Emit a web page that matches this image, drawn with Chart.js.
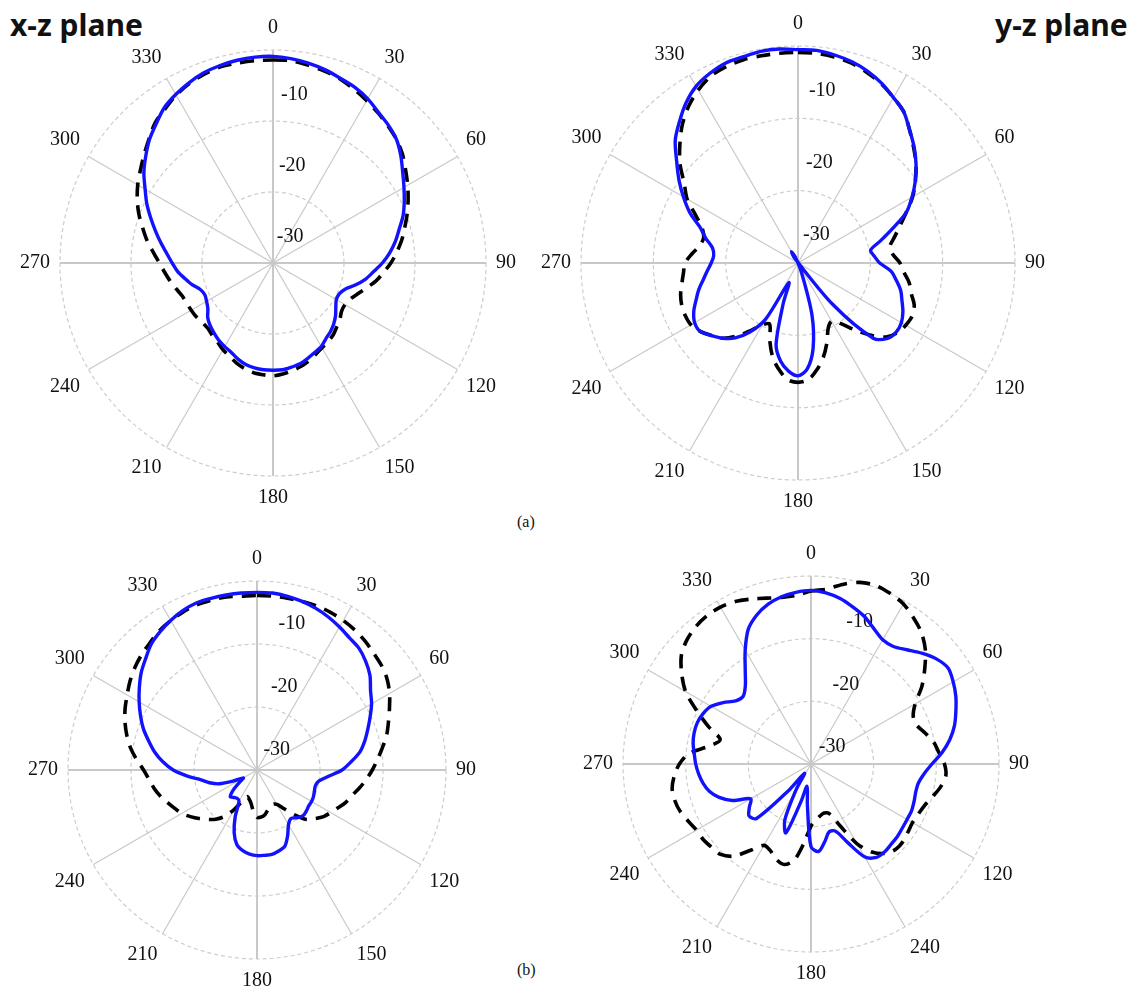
<!DOCTYPE html>
<html>
<head>
<meta charset="utf-8">
<script src="https://cdn.jsdelivr.net/npm/chart.js@4.4.1/dist/chart.umd.min.js"></script>
<style>
  html, body { margin: 0; padding: 0; background: #ffffff; }
  body { width: 1129px; height: 987px; overflow: hidden; position: relative; }
  canvas { position: absolute; }
  .plane { position: absolute; font-family: "Noto Sans", "Open Sans", sans-serif; font-weight: bold; font-size: 30px; line-height: 30px; color: #111; white-space: nowrap; }
  .cap { position: absolute; font-family: "Liberation Serif", "Times New Roman", serif; font-size: 16px; line-height: 16px; color: #111; }
</style>
</head>
<body>
<div class="plane" style="left:10px; top:10px;">x-z plane</div>
<div class="plane" style="left:995px; top:10px;">y-z plane</div>
<div class="cap" style="left:517px; top:514px;">(a)</div>
<div class="cap" style="left:517px; top:962px;">(b)</div>

<canvas id="pa1" width="506" height="506" style="left:15px; top:10px;"></canvas>
<canvas id="pa2" width="514" height="514" style="left:536px; top:6px;"></canvas>
<canvas id="pb1" width="458" height="458" style="left:23px; top:541px;"></canvas>
<canvas id="pb2" width="456" height="456" style="left:578px; top:536px;"></canvas>

<script>
// Angle categories (degrees)
const angleDeg = [
  0, 5, 10, 15, 20, 25, 30, 35, 40, 45, 50, 55,
  60, 65, 70, 75, 80, 85, 90, 95, 100, 105, 110, 115,
  120, 125, 130, 135, 140, 145, 150, 155, 160, 165, 170, 175,
  180, 185, 190, 195, 200, 205, 210, 215, 220, 225, 230, 235,
  240, 245, 250, 255, 260, 265, 270, 275, 280, 285, 290, 295,
  300, 305, 310, 315, 320, 325, 330, 335, 340, 345, 350, 355
];

// Angle tick labels (every 30 degrees)
const angleTicksStd = ['0', '30', '60', '90', '120', '150', '180', '210', '240', '270', '300', '330'];
const angleTicksB2  = ['0', '30', '60', '90', '120', '240', '180', '210', '240', '270', '300', '330'];

// Radial tick labels (dB)
const ringTicks = [-10, -20, -30];

// (a) x-z plane: blue solid and black dashed (dB)
const aXzSolid = [
  -0.9, -1.1, -1.4, -1.8, -2.3, -2.7, -3.3, -4.1, -4.7, -5.4, -6.5, -7.7,
  -8.7, -9.6, -10.5, -11.6, -12.5, -13.5, -14.6, -15.8, -16.8, -18.0, -19.2, -19.7,
  -19.7, -19.2, -18.5, -17.9, -17.4, -17.0, -16.4, -16.1, -15.7, -15.3, -15.1, -14.9,
  -14.9, -14.9, -15.0, -15.2, -15.6, -16.1, -16.4, -16.7, -17.1, -17.5, -18.0, -18.8,
  -19.2, -19.4, -19.1, -18.2, -17.4, -16.5, -15.8, -15.0, -14.0, -12.9, -11.7, -10.4,
  -9.2, -7.8, -6.6, -5.4, -4.4, -3.3, -2.6, -2.0, -1.5, -1.2, -1.0, -0.9
];
const aXzDashed = [
  -1.4, -1.4, -1.7, -2.0, -2.4, -3.0, -3.6, -4.2, -4.8, -5.4, -6.2, -7.2,
  -8.1, -9.0, -9.9, -10.8, -11.6, -12.5, -13.4, -14.4, -15.3, -16.4, -17.3, -18.0,
  -18.3, -18.2, -17.7, -17.3, -16.8, -16.5, -16.2, -15.8, -15.3, -14.9, -14.6, -14.3,
  -14.1, -14.2, -14.3, -14.6, -15.0, -15.5, -15.9, -16.4, -16.7, -17.0, -17.0, -16.8,
  -16.7, -16.6, -16.4, -15.9, -15.3, -14.7, -14.0, -13.1, -12.0, -11.0, -9.9, -8.9,
  -8.0, -7.2, -6.3, -5.3, -4.2, -3.5, -2.7, -2.1, -1.7, -1.4, -1.4, -1.4
];

// (a) y-z plane
const aYzSolid = [
  -0.5, -0.5, -0.8, -1.2, -1.8, -2.6, -3.6, -4.5, -6.0, -7.3, -8.7, -10.2,
  -11.8, -13.5, -16.1, -18.2, -19.8, -19.4, -18.7, -17.1, -16.2, -15.3, -14.7, -14.0,
  -13.5, -13.4, -13.8, -15.3, -22.5, -30.9, -31.8, -30.9, -28.5, -22.5, -18.0, -15.3,
  -14.4, -15.0, -16.2, -18.3, -24.0, -27.0, -21.0, -18.3, -16.5, -15.3, -14.4, -13.5,
  -13.5, -14.1, -15.0, -15.8, -16.7, -17.4, -18.0, -18.3, -18.0, -16.8, -15.6, -13.5,
  -11.7, -9.9, -8.1, -6.0, -4.5, -3.0, -1.8, -1.1, -0.6, -0.5, -0.3, -0.3
];
const aYzDashed = [
  -0.9, -0.9, -1.1, -1.4, -2.0, -2.7, -3.6, -4.5, -6.0, -7.4, -8.7, -10.2,
  -11.7, -13.5, -15.0, -16.2, -17.1, -16.8, -15.9, -15.3, -14.4, -13.8, -12.9, -12.6,
  -12.8, -13.2, -14.1, -15.9, -18.0, -19.8, -20.7, -20.1, -18.3, -16.5, -15.0, -13.8,
  -13.5, -13.8, -15.0, -16.5, -18.6, -20.7, -20.1, -18.6, -16.8, -15.3, -14.4, -13.5,
  -12.9, -12.8, -12.9, -13.2, -13.7, -14.1, -14.4, -15.3, -16.2, -16.5, -15.9, -14.4,
  -12.3, -10.8, -8.7, -6.9, -5.1, -3.6, -2.4, -1.5, -1.1, -0.9, -0.9, -0.9
];

// (b) x-z plane
const bXzSolid = [
  -1.8, -1.8, -2.0, -2.3, -2.7, -3.2, -3.8, -4.4, -4.8, -5.6, -6.6, -8.0,
  -9.0, -10.2, -11.3, -12.3, -13.4, -15.0, -16.5, -18.6, -20.0, -20.4, -20.3, -20.1,
  -20.0, -20.0, -19.8, -19.7, -20.1, -20.6, -20.0, -18.5, -17.1, -16.7, -16.4, -16.4,
  -16.4, -16.6, -17.0, -17.7, -19.4, -21.8, -24.3, -24.5, -24.3, -24.0, -25.1, -26.6,
  -27.5, -25.8, -23.6, -22.2, -21.0, -18.9, -16.7, -15.0, -13.5, -12.2, -10.8, -9.6,
  -8.4, -7.2, -6.0, -5.0, -3.9, -3.2, -2.6, -2.1, -1.8, -1.8, -1.8, -1.8
];
const bXzDashed = [
  -2.3, -2.3, -2.3, -2.3, -2.3, -2.4, -2.6, -2.9, -3.3, -3.8, -4.2, -4.8,
  -5.7, -6.8, -7.8, -8.7, -9.8, -10.8, -11.7, -12.6, -13.5, -14.4, -15.0, -15.8,
  -16.5, -17.1, -18.0, -18.9, -20.7, -22.5, -23.7, -24.0, -23.7, -23.4, -22.8, -22.5,
  -22.5, -23.4, -24.6, -25.2, -25.5, -24.6, -22.8, -21.0, -19.8, -18.9, -18.0, -17.1,
  -16.2, -15.6, -14.9, -14.1, -13.4, -12.8, -12.0, -10.8, -9.6, -8.6, -7.7, -6.9,
  -6.2, -5.4, -4.7, -4.1, -3.6, -3.0, -2.6, -2.3, -2.1, -2.1, -2.1, -2.3
];

// (b) y-z plane
const bYzSolid = [
  -2.3, -2.6, -3.2, -4.1, -5.0, -6.2, -7.1, -7.1, -6.2, -5.0, -3.9, -3.3,
  -3.8, -4.5, -5.4, -6.3, -7.5, -9.0, -10.7, -11.9, -12.6, -12.7, -12.5, -12.3,
  -12.3, -12.2, -12.0, -11.9, -11.7, -11.8, -12.9, -16.2, -18.6, -18.8, -17.4, -16.0,
  -16.8, -23.4, -26.4, -23.7, -18.3, -20.1, -25.2, -28.2, -24.6, -17.7, -17.1, -18.0,
  -18.9, -16.2, -14.4, -13.2, -12.5, -12.0, -11.6, -11.3, -10.9, -10.7, -10.7, -11.0,
  -11.6, -12.9, -14.3, -14.7, -13.7, -11.7, -9.0, -6.3, -4.7, -3.6, -2.9, -2.5
];
const bYzDashed = [
  -2.4, -2.0, -0.9, 0.0, 0.3, 0.0, -0.5, -1.5, -2.6, -4.2, -6.3, -8.4,
  -10.8, -12.0, -12.0, -11.1, -10.1, -9.5, -8.7, -8.4, -9.0, -9.9, -10.7, -11.1,
  -11.3, -11.1, -10.8, -10.8, -11.4, -12.8, -15.3, -19.2, -21.6, -21.9, -21.6, -21.0,
  -20.1, -17.4, -14.4, -13.4, -13.8, -14.7, -15.0, -13.2, -10.8, -9.6, -9.3, -9.0,
  -8.9, -8.4, -7.8, -7.5, -7.5, -8.1, -9.0, -10.5, -13.5, -15.0, -12.6, -9.9,
  -6.9, -4.8, -3.0, -2.0, -1.4, -1.1, -1.1, -1.4, -2.0, -2.6, -3.0, -3.0
];

const SERIF = '"Liberation Serif", "Times New Roman", serif';

// Draws the radial dB labels next to the rings, using the radial scale
const ringLabelPlugin = {
  id: 'ringLabels',
  beforeDatasetsDraw(chart, args, o) {
    const s = chart.scales.r;
    const ctx = chart.ctx;
    ctx.save();
    ctx.font = '20px ' + SERIF;
    ctx.fillStyle = '#111';
    ctx.textAlign = 'left';
    ctx.textBaseline = 'middle';
    o.values.forEach(v => {
      const d = s.getDistanceFromCenterForValue(v) + o.offset;
      ctx.fillText(String(v), s.xCenter + o.dx + o.slant * d, s.yCenter - d);
    });
    ctx.restore();
  }
};

function makePolar(id, solid, dashed, tickNames, lbl) {
  new Chart(document.getElementById(id), {
    type: 'radar',
    data: {
      labels: angleDeg,
      datasets: [
        { data: solid, borderColor: '#1212ff', borderWidth: 3.4, pointRadius: 0, fill: false, tension: 0.3 },
        { data: dashed, borderColor: '#000000', borderWidth: 3.6, borderDash: [14, 9], pointRadius: 0, fill: false, tension: 0.3 }
      ]
    },
    options: {
      responsive: false,
      animation: false,
      devicePixelRatio: 1,
      events: [],
      plugins: {
        legend: { display: false },
        tooltip: { enabled: false },
        ringLabels: lbl
      },
      scales: {
        r: {
          min: -30,
          max: 0,
          ticks: { display: false, stepSize: 10 },
          grid: { circular: true, color: '#cdcdcd', lineWidth: 1.2 },
          border: { dash: [4, 3] },
          angleLines: {
            display: true,
            color: '#c8c8c8',
            lineWidth: c => (c.index % 18 === 0 ? 2 : (c.index % 6 === 0 ? 1.2 : 0))
          },
          pointLabels: {
            display: true,
            padding: 10,
            color: '#111',
            font: { family: SERIF, size: 20 },
            callback: (v, i) => (i % 6 === 0 ? tickNames[i / 6] : '')
          }
        }
      }
    },
    plugins: [ringLabelPlugin]
  });
}

makePolar('pa1', aXzSolid, aXzDashed, angleTicksStd, { values: ringTicks, offset: 26, dx: 3, slant: 0.03 });
makePolar('pa2', aYzSolid, aYzDashed, angleTicksStd, { values: ringTicks, offset: 28, dx: 4, slant: 0.04 });
makePolar('pb1', bXzSolid, bXzDashed, angleTicksStd, { values: ringTicks, offset: 20, dx: 4, slant: 0.12 });
makePolar('pb2', bYzSolid, bYzDashed, angleTicksB2, { values: ringTicks, offset: 17, dx: 4, slant: 0.22 });
</script>
</body>
</html>
